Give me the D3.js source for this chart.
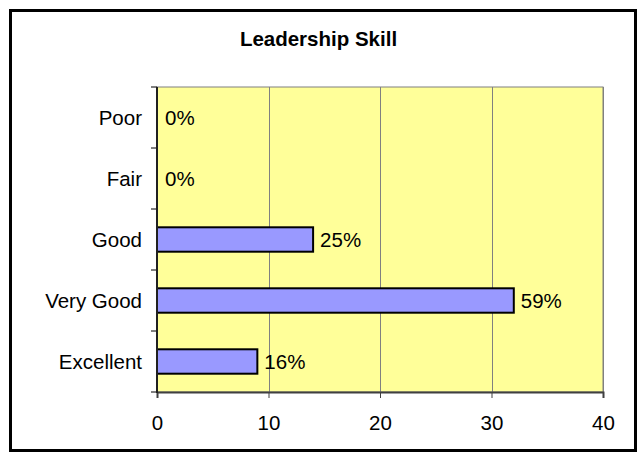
<!DOCTYPE html>
<html>
<head>
<meta charset="utf-8">
<script src="https://cdn.jsdelivr.net/npm/d3@7"></script>
<style>
  html, body { margin: 0; padding: 0; background: #ffffff; }
  svg { display: block; }
  text { font-family: "Liberation Sans", Arial, sans-serif; fill: #000; }
</style>
</head>
<body>
<svg id="chart" width="642" height="459"></svg>
<script>
const title = "Leadership Skill";
const categories = ["Poor", "Fair", "Good", "Very Good", "Excellent"];
const values = [0, 0, 14, 32, 9];
const valueLabels = ["0%", "0%", "25%", "59%", "16%"];
const xTicks = [0, 10, 20, 30, 40];

const svg = d3.select("#chart");
const W = 642, H = 459;
const plot = { left: 157, right: 603, top: 87, bottom: 392 };

// outer frame
svg.append("rect")
  .attr("x", 10.5).attr("y", 10.5)
  .attr("width", 625).attr("height", 440)
  .attr("fill", "#ffffff")
  .attr("stroke", "#000").attr("stroke-width", 3);

// title
svg.append("text")
  .attr("x", 318.5).attr("y", 46)
  .attr("text-anchor", "middle")
  .attr("font-size", "20.5px")
  .attr("font-weight", "bold")
  .text(title);

const x = d3.scaleLinear().domain([0, 40]).range([plot.left, plot.right]);
const y = d3.scaleBand().domain(categories)
  .range([plot.top, plot.bottom])
  .paddingInner(0.6).paddingOuter(0.3);

// plot background
svg.append("rect")
  .attr("x", plot.left).attr("y", plot.top)
  .attr("width", plot.right - plot.left).attr("height", plot.bottom - plot.top)
  .attr("fill", "#FFFF99")
  .attr("stroke", "#808080").attr("stroke-width", 1);

// gridlines
svg.append("g")
  .selectAll("line")
  .data(xTicks.filter(t => t > 0))
  .join("line")
  .attr("x1", d => Math.round(x(d)) + 0.5).attr("x2", d => Math.round(x(d)) + 0.5)
  .attr("y1", plot.top).attr("y2", plot.bottom)
  .attr("stroke", "#808080").attr("stroke-width", 1);

// bars
svg.append("g")
  .selectAll("rect")
  .data(categories.map((c, i) => ({ c, v: values[i], l: valueLabels[i] })).filter(d => d.v > 0))
  .join("rect")
  .attr("x", x(0))
  .attr("y", d => y(d.c))
  .attr("width", d => x(d.v) - x(0))
  .attr("height", y.bandwidth())
  .attr("fill", "#9999FF")
  .attr("stroke", "#000").attr("stroke-width", 2);

// value labels
svg.append("g")
  .selectAll("text")
  .data(categories.map((c, i) => ({ c, v: values[i], l: valueLabels[i] })))
  .join("text")
  .attr("x", d => x(d.v) + (d.v > 0 ? 7 : 8))
  .attr("y", d => y(d.c) + y.bandwidth() / 2)
  .attr("dy", "0.35em")
  .attr("font-size", "20.5px")
  .text(d => d.l);

// x axis
const xAxis = svg.append("g")
  .attr("transform", `translate(0,${plot.bottom})`)
  .call(d3.axisBottom(x).tickValues(xTicks).tickSize(6).tickPadding(17).tickFormat(d3.format("d")));
xAxis.select(".domain").attr("stroke", "#404040").attr("stroke-width", 2);
xAxis.selectAll(".tick line").attr("stroke", "#404040");
xAxis.selectAll(".tick text")
  .attr("font-size", "20.5px")
  .attr("font-family", "Liberation Sans, Arial, sans-serif")
  .attr("fill", "#000");

// y axis: category labels and boundary ticks
const step = y.step();
const boundaries = d3.range(categories.length + 1).map(i => plot.top + i * step);
svg.append("g").selectAll("line")
  .data(boundaries)
  .join("line")
  .attr("x1", plot.left - 6).attr("x2", plot.left)
  .attr("y1", d => d).attr("y2", d => d)
  .attr("stroke", "#000").attr("stroke-width", 1);
svg.append("line")
  .attr("x1", plot.left).attr("x2", plot.left)
  .attr("y1", plot.top).attr("y2", plot.bottom + 1)
  .attr("stroke", "#202020").attr("stroke-width", 2);

svg.append("g").selectAll("text")
  .data(categories)
  .join("text")
  .attr("x", 142)
  .attr("y", d => y(d) + y.bandwidth() / 2)
  .attr("dy", "0.35em")
  .attr("text-anchor", "end")
  .attr("font-size", "20.5px")
  .text(d => d);
</script>
</body>
</html>
